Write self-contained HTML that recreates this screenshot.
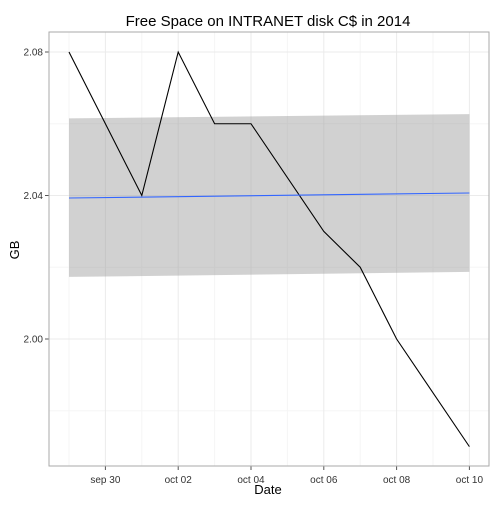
<!DOCTYPE html>
<html><head><meta charset="utf-8"><style>
body{margin:0;background:#fff}
svg text{font-family:"Liberation Sans",sans-serif}
</style></head><body>
<svg width="504" height="504" id="c">
<text x="268" y="26" text-anchor="middle" font-size="15">Free Space on INTRANET disk C$ in 2014</text>
<text x="268" y="494" text-anchor="middle" font-size="13">Date</text>
<text x="19" y="250" text-anchor="middle" font-size="13" transform="rotate(-90 19 250)">GB</text>
<g id="g"></g>
</svg>
<script>
const dayOffsets=[0,2,3,4,5,7,8,9,11];
const values=[2.08,2.04,2.08,2.06,2.06,2.03,2.02,2.00,1.97];
const ribbonDays=[0,11];
const ribbonUpper=[2.0615,2.0627];
const ribbonLower=[2.0173,2.0187];
const fitValues=[2.0393,2.0407];
const xTickDays=[1,3,5,7,9,11];
const xTickLabels=["sep 30","oct 02","oct 04","oct 06","oct 08","oct 10"];
const yTicks=[2.00,2.04,2.08];
const yTickLabels=["2.00","2.04","2.08"];
const L=49,R=489,T=32,B=466;
const X=d=>69+d*36.4;
const Y=v=>339-(v-2.00)*3587.5;
const g=document.getElementById('g');
const NS="http://www.w3.org/2000/svg";
function mk(t,a){const e=document.createElementNS(NS,t);for(const k in a)e.setAttribute(k,a[k]);g.appendChild(e);return e;}
let e=mk('rect',{x:L,y:T,width:R-L,height:B-T,fill:'#fff'});


// minor grid
for(let i=0;i<xTickDays.length+1;i++){const d=xTickDays[0]-1+i*2;const x=X(d);if(x>L&&x<R){e=mk('line',{x1:x,x2:x,y1:T,y2:B,stroke:'#f5f5f5','stroke-width':1});

}}
for(let v=1.98;v<2.09;v+=0.04){const y=Y(v);if(y>T&&y<B){e=mk('line',{x1:L,x2:R,y1:y,y2:y,stroke:'#f5f5f5','stroke-width':1});

}}
xTickDays.forEach((d,i)=>{const x=X(d);
e=mk('line',{x1:x,x2:x,y1:T,y2:B,stroke:'#ebebeb','stroke-width':1});


e=mk('line',{x1:x,x2:x,y1:B,y2:B+4,stroke:'#555','stroke-width':1});


e=mk('text',{x:x,y:B+17,'text-anchor':'middle','font-size':10,fill:'#333'});e.textContent=xTickLabels[i];

});
yTicks.forEach((v,i)=>{const y=Y(v);
e=mk('line',{x1:L,x2:R,y1:y,y2:y,stroke:'#ebebeb','stroke-width':1});


e=mk('line',{x1:L-4,x2:L,y1:y,y2:y,stroke:'#555','stroke-width':1});


e=mk('text',{x:L-6,y:y+3.5,'text-anchor':'end','font-size':10,fill:'#333'});e.textContent=yTickLabels[i];

});
let p='M'+X(ribbonDays[0])+','+Y(ribbonUpper[0])+'L'+X(ribbonDays[1])+','+Y(ribbonUpper[1])+'L'+X(ribbonDays[1])+','+Y(ribbonLower[1])+'L'+X(ribbonDays[0])+','+Y(ribbonLower[0])+'Z';
e=mk('path',{d:p,fill:'#999','fill-opacity':0.45});


e=mk('polyline',{points:dayOffsets.map((d,i)=>X(d)+','+Y(values[i])).join(' '),fill:'none',stroke:'#000','stroke-width':1.1});


e=mk('line',{x1:X(ribbonDays[0]),y1:Y(fitValues[0]),x2:X(ribbonDays[1]),y2:Y(fitValues[1]),stroke:'#3366ff','stroke-width':1.1});


e=mk('rect',{x:L,y:T,width:R-L,height:B-T,fill:'none',stroke:'#aaa','stroke-width':1});


</script>
</body></html>
